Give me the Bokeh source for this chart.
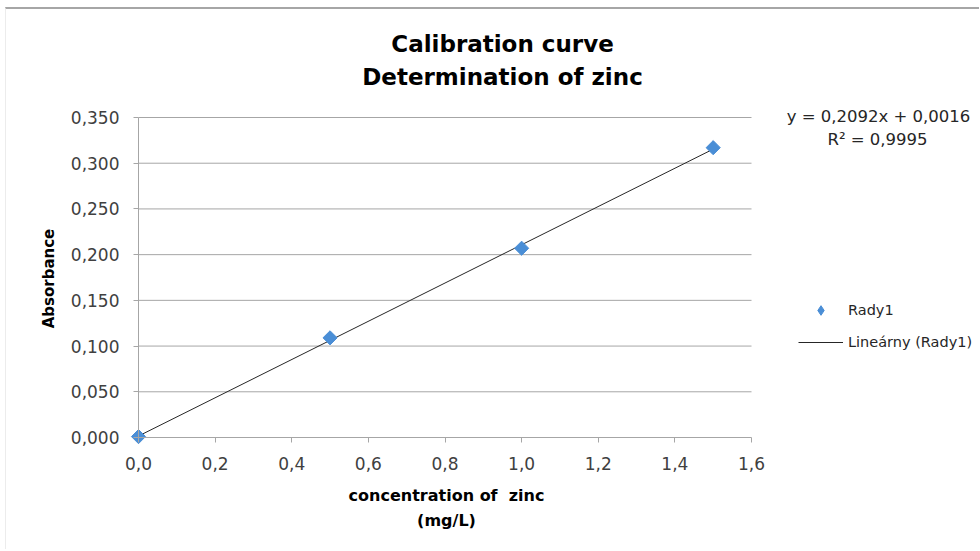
import numpy as np
from bokeh.plotting import figure
from bokeh.models import (Label, Legend, LegendItem, Range1d,
                          CustomJSTickFormatter, FixedTicker)
from bokeh.embed import file_html
from bokeh.resources import INLINE

# ---- data ----
concentration = [0.0, 0.5, 1.0, 1.5]          # mg/L
absorbance = [0.001, 0.109, 0.207, 0.317]
x_ticks = [0.0, 0.2, 0.4, 0.6, 0.8, 1.0, 1.2, 1.4, 1.6]
y_ticks = [0.0, 0.05, 0.10, 0.15, 0.20, 0.25, 0.30, 0.35]
title_lines = ["Calibration curve", "Determination of zinc"]
x_title_lines = ["concentration of\u00a0 zinc", "(mg/L)"]
y_title = "Absorbance"
series_name = "Rady1"
trend_name = "Lineárny (Rady1)"

# linear trendline (least squares)
slope, intercept = np.polyfit(concentration, absorbance, 1)
pred = slope * np.array(concentration) + intercept
ss_res = float(np.sum((np.array(absorbance) - pred) ** 2))
ss_tot = float(np.sum((np.array(absorbance) - np.mean(absorbance)) ** 2))
r2 = 1 - ss_res / ss_tot
fit_x = [min(concentration), max(concentration)]
fit_y = [slope * v + intercept for v in fit_x]
eq_text = ("y = %.4fx + %.4f" % (slope, intercept)).replace(".", ",")
r2_text = ("R² = %.4f" % r2).replace(".", ",")

FONT = "DejaVu Sans"
BLUE = "#4a8ed6"
W, H = 974, 542
OX, OY = 6, 9                          # canvas offset in page
FL, FR, FT, FB = 138, 751, 117, 437    # axis area in page px
XMAX, YMAX = x_ticks[-1], y_ticks[-1]

def dx(px):
    return (px - FL) / (FR - FL) * XMAX

def dy(py):
    return (FB - py) / (FB - FT) * YMAX

# the frame covers the whole canvas; axes sit at fixed data locations
p = figure(width=W, height=H, output_backend="svg", toolbar_location=None,
           title=None,
           x_range=Range1d(dx(OX), dx(OX + W)),
           y_range=Range1d(dy(OY + H), dy(OY)),
           min_border_left=0, min_border_right=0,
           min_border_top=0, min_border_bottom=0)
p.styles = {"margin-top": "7px", "margin-left": "5px",
            "border-top": "2px solid #a6a6a6", "border-left": "1px solid #ececec"}
p.outline_line_color = None
p.background_fill_color = "white"
p.border_fill_color = "white"

# axes
for ax in (p.xaxis[0], p.yaxis[0]):
    ax.fixed_location = 0
    ax.axis_line_color = "#a6a6a6"
    ax.major_tick_line_color = "#a6a6a6"
    ax.major_tick_out = 5
    ax.major_tick_in = 0
    ax.minor_tick_line_color = None
    ax.major_label_text_font = FONT
    ax.major_label_text_font_size = "17px"
    ax.major_label_text_color = "#404040"
p.xaxis.bounds = (x_ticks[0], x_ticks[-1])
p.yaxis.bounds = (y_ticks[0], y_ticks[-1])
p.xaxis.ticker = FixedTicker(ticks=x_ticks)
p.yaxis.ticker = FixedTicker(ticks=y_ticks)
p.xaxis.formatter = CustomJSTickFormatter(code="return tick.toFixed(1).replace('.', ',');")
p.yaxis.formatter = CustomJSTickFormatter(code="return tick.toFixed(3).replace('.', ',');")
p.xaxis.major_label_standoff = 14
p.yaxis.major_label_standoff = 14
p.xgrid.grid_line_color = None
p.ygrid.grid_line_color = None

# horizontal gridlines, limited to the axis extent
p.segment(x0=x_ticks[0], x1=x_ticks[-1], y0=y_ticks[1:], y1=y_ticks[1:],
          line_color="#a6a6a6", line_width=1, level="underlay")

# glyphs
line_r = p.line(fit_x, fit_y, line_color="#262626", line_width=1)
pts = p.scatter(concentration, absorbance, marker="square", angle=np.pi / 4,
                size=10, fill_color=BLUE, line_color=BLUE)
# hidden diamond renderer that only supplies the legend swatch
swatch = p.scatter(concentration, absorbance, marker="diamond",
                   fill_color=BLUE, line_color=BLUE, visible=False)

# texts
def add_label(text, px, py, size, bold=False, color="black", angle=0.0):
    p.add_layout(Label(x=dx(px), y=dy(py), text=text, text_align="center",
                       text_baseline="middle", text_font=FONT,
                       text_font_size=size, text_color=color, angle=angle,
                       text_font_style="bold" if bold else "normal"))

add_label(title_lines[0], 502, 43, "23px", bold=True)
add_label(title_lines[1], 502, 76, "23px", bold=True)
add_label(eq_text, 878, 116, "16.5px", color="#262626")
add_label(r2_text, 877, 139, "16.5px", color="#262626")
add_label(x_title_lines[0], 446, 495, "16px", bold=True)
add_label(x_title_lines[1], 446, 520, "16px", bold=True)
add_label(y_title, 48, 278, "15px", bold=True, angle=np.pi / 2)

legend = Legend(items=[LegendItem(label=series_name, renderers=[swatch]),
                       LegendItem(label=trend_name, renderers=[line_r])],
                location=(798 - OX, (OY + H) - 354), orientation="vertical",
                padding=0, margin=0, spacing=8, glyph_width=45,
                glyph_height=24, label_height=24, label_standoff=5,
                border_line_color=None, background_fill_alpha=0,
                inactive_fill_alpha=0,
                label_text_font=FONT, label_text_font_size="14.5px",
                label_text_color="#262626")
p.add_layout(legend)

open("out.html", "w").write(file_html(p, INLINE))
